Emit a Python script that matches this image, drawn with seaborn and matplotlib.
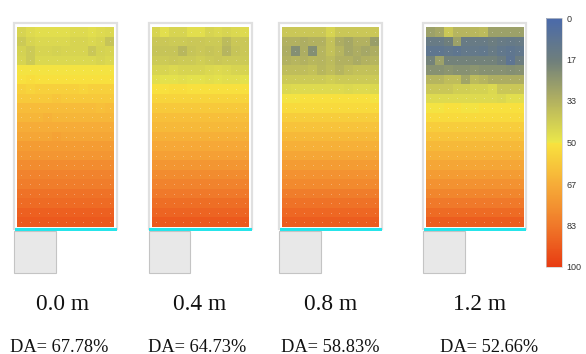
import numpy as np
import pandas as pd
import matplotlib
matplotlib.use("Agg")
import matplotlib.pyplot as plt
import seaborn as sns
from matplotlib.colors import LinearSegmentedColormap
from matplotlib.patches import Rectangle

# ---------------- data ----------------
heights = ["0.0 m", "0.4 m", "0.8 m", "1.2 m"]
da_labels = ["DA= 67.78%", "DA= 64.73%", "DA= 58.83%", "DA= 52.66%"]
cbar_ticks = [0, 16.67, 33.33, 50, 66.67, 83.33, 100]
cbar_ticklabels = ["0", "17", "33", "50", "67", "83", "100"]

grid_00 = [
    [44, 46, 47, 47, 47, 47, 46, 46, 47, 46, 45],
    [41, 44, 45, 45, 45, 45, 44, 44, 45, 44, 39],
    [43, 41, 44, 44, 43, 44, 44, 44, 40, 43, 44],
    [44, 41, 45, 45, 45, 45, 45, 45, 45, 44, 45],
    [50, 50, 50, 50, 50, 50, 50, 50, 50, 50, 50],
    [51, 52, 51, 51, 51, 51, 51, 51, 51, 51, 51],
    [56, 55, 56, 56, 56, 56, 56, 55, 56, 56, 56],
    [58, 58, 58, 58, 59, 58, 58, 58, 58, 58, 58],
    [62, 62, 62, 62, 62, 62, 62, 62, 62, 61, 62],
    [64, 64, 64, 65, 64, 64, 64, 64, 64, 64, 64],
    [67, 67, 67, 67, 67, 67, 67, 67, 67, 67, 67],
    [69, 69, 69, 69, 70, 69, 69, 69, 69, 69, 69],
    [72, 72, 72, 72, 72, 72, 72, 72, 72, 72, 72],
    [74, 74, 74, 74, 74, 74, 74, 74, 74, 74, 74],
    [77, 77, 77, 77, 77, 77, 77, 77, 77, 77, 77],
    [80, 80, 80, 80, 80, 80, 80, 80, 80, 80, 80],
    [82, 82, 82, 82, 82, 82, 82, 82, 82, 82, 82],
    [85, 85, 85, 85, 85, 85, 85, 85, 85, 85, 85],
    [87, 87, 87, 87, 87, 87, 87, 87, 87, 87, 87],
    [90, 90, 90, 90, 90, 90, 90, 90, 90, 90, 90],
    [92, 92, 92, 92, 92, 92, 92, 92, 92, 92, 92],
]

grid_04 = [
    [44, 47, 44, 44, 47, 47, 44, 45, 44, 45, 46],
    [40, 40, 41, 41, 40, 40, 41, 41, 36, 40, 40],
    [39, 39, 39, 35, 39, 40, 39, 40, 34, 39, 40],
    [41, 41, 40, 41, 41, 42, 41, 40, 41, 41, 41],
    [44, 44, 45, 44, 44, 44, 45, 46, 45, 44, 44],
    [47, 48, 48, 47, 48, 48, 47, 48, 47, 47, 48],
    [51, 51, 52, 52, 51, 51, 51, 51, 51, 51, 51],
    [55, 55, 55, 55, 55, 55, 55, 55, 55, 55, 55],
    [58, 58, 58, 58, 58, 58, 58, 58, 58, 58, 58],
    [61, 61, 61, 61, 61, 61, 61, 61, 61, 61, 61],
    [63, 63, 63, 63, 63, 63, 63, 63, 63, 63, 63],
    [66, 66, 66, 66, 66, 66, 66, 66, 66, 66, 66],
    [68, 68, 68, 68, 68, 68, 68, 68, 68, 68, 68],
    [71, 71, 71, 71, 71, 71, 71, 71, 71, 71, 71],
    [74, 74, 74, 74, 74, 74, 74, 74, 74, 74, 74],
    [77, 77, 77, 77, 77, 77, 77, 77, 77, 77, 77],
    [80, 80, 80, 80, 80, 80, 80, 80, 80, 80, 80],
    [83, 83, 83, 83, 83, 83, 83, 83, 83, 83, 83],
    [86, 86, 86, 86, 86, 86, 86, 86, 86, 86, 86],
    [89, 89, 89, 89, 89, 89, 89, 89, 89, 89, 89],
    [92, 92, 92, 92, 92, 92, 92, 92, 92, 92, 92],
]

grid_08 = [
    [40, 40, 40, 40, 40, 44, 40, 40, 40, 40, 40],
    [33, 33, 32, 33, 33, 38, 32, 30, 33, 33, 27],
    [32, 22, 32, 22, 34, 38, 34, 30, 32, 30, 32],
    [33, 34, 33, 35, 34, 36, 33, 33, 31, 33, 34],
    [37, 37, 37, 38, 35, 37, 34, 37, 38, 38, 38],
    [41, 41, 41, 41, 41, 42, 41, 41, 41, 41, 41],
    [45, 46, 46, 46, 46, 46, 46, 45, 46, 46, 45],
    [50, 50, 51, 51, 51, 51, 51, 51, 51, 51, 50],
    [53, 53, 53, 53, 53, 53, 53, 53, 53, 53, 53],
    [57, 57, 57, 57, 57, 57, 57, 57, 57, 57, 57],
    [60, 60, 60, 60, 60, 60, 60, 60, 60, 60, 60],
    [63, 63, 63, 63, 63, 63, 63, 63, 63, 63, 63],
    [66, 66, 66, 66, 66, 66, 66, 66, 66, 66, 66],
    [69, 69, 69, 69, 69, 69, 69, 69, 69, 69, 69],
    [72, 72, 72, 72, 72, 72, 72, 72, 72, 72, 72],
    [75, 75, 75, 75, 75, 75, 75, 75, 75, 75, 75],
    [78, 78, 78, 78, 78, 78, 78, 78, 78, 78, 78],
    [82, 82, 82, 82, 82, 82, 82, 82, 82, 82, 82],
    [85, 85, 85, 85, 85, 85, 85, 85, 85, 85, 85],
    [88, 88, 88, 88, 88, 88, 88, 88, 88, 88, 88],
    [91, 91, 91, 91, 91, 91, 91, 91, 91, 91, 91],
]

grid_12 = [
    [28, 30, 40, 34, 34, 35, 36, 28, 28, 28, 28],
    [14, 14, 17, 28, 14, 14, 14, 16, 14, 13, 14],
    [10, 10, 11, 10, 12, 12, 11, 14, 11, 10, 11],
    [18, 28, 18, 18, 18, 18, 18, 18, 16, 9, 16],
    [23, 23, 24, 23, 23, 24, 23, 23, 23, 22, 23],
    [34, 34, 37, 37, 29, 36, 34, 32, 32, 32, 32],
    [40, 40, 40, 42, 42, 43, 43, 45, 40, 40, 40],
    [46, 46, 46, 46, 46, 46, 46, 46, 45, 47, 47],
    [50, 50, 51, 51, 50, 50, 51, 51, 51, 51, 51],
    [53, 53, 53, 53, 53, 53, 53, 53, 53, 53, 53],
    [57, 57, 57, 57, 57, 57, 57, 57, 57, 57, 57],
    [60, 60, 60, 60, 60, 60, 60, 60, 60, 60, 60],
    [63, 63, 63, 63, 63, 63, 63, 63, 63, 63, 63],
    [66, 66, 66, 66, 66, 66, 66, 66, 66, 66, 66],
    [69, 69, 69, 69, 69, 69, 69, 69, 69, 69, 69],
    [72, 72, 72, 72, 72, 72, 72, 72, 72, 72, 72],
    [75, 75, 75, 75, 75, 75, 75, 75, 75, 75, 75],
    [79, 79, 79, 79, 79, 79, 79, 79, 79, 79, 79],
    [83, 83, 83, 83, 83, 83, 83, 83, 83, 83, 83],
    [87, 87, 87, 87, 87, 87, 87, 87, 87, 87, 87],
    [91, 91, 91, 91, 91, 91, 91, 91, 91, 91, 91],
]

grids = [grid_00, grid_04, grid_08, grid_12]

# ---------------- style ----------------
W, H = 586, 354
fig = plt.figure(figsize=(W / 100, H / 100), dpi=100)
fig.patch.set_facecolor("white")

cmap = LinearSegmentedColormap.from_list(
    "da",
    [(0.0, "#4a6aaa"), (0.17, "#6f7f7c"), (0.33, "#b2b160"),
     (0.495, "#eae64a"), (0.505, "#f8e23e"), (0.67, "#f6ac38"),
     (0.83, "#f07a2a"), (1.0, "#e83c12")],
)


def fx(x):
    return x / W


def fy(y):
    return 1 - y / H


def px_axes(x0, y0, x1, y1, z=1):
    a = fig.add_axes([fx(x0), fy(y1), fx(x1) - fx(x0), (y1 - y0) / H])
    a.set_zorder(z)
    return a


# heatmap extents in pixels (x0, x1)
heat_x = [(17, 114), (151.5, 249), (282, 379), (426, 523.5)]
heat_y = (27, 227)
label_x = [63, 200, 331, 480]
da_x = [59, 197, 330, 489]

for k, grid in enumerate(grids):
    x0, x1 = heat_x[k]
    # outer frame
    fig.patches.append(Rectangle((fx(x0 - 2.8), fy(heat_y[1] + 2)),
                                 (x1 - x0 + 5.6) / W, (heat_y[1] - heat_y[0] + 6) / H,
                                 transform=fig.transFigure, facecolor="none",
                                 edgecolor="#e0e0e0", linewidth=1.6, zorder=-1))
    ax = px_axes(x0, heat_y[0], x1, heat_y[1], z=2)
    df = pd.DataFrame(grid)
    sns.heatmap(df, ax=ax, cmap=cmap, vmin=0, vmax=100, cbar=False,
                xticklabels=False, yticklabels=False, linewidths=0)
    nrow, ncol = df.shape
    jj, ii = np.meshgrid(np.arange(ncol) + 0.5, np.arange(nrow) + 0.5)
    ax.scatter(jj.ravel(), ii.ravel(), s=0.6, c="white", alpha=0.35,
               linewidths=0)
    ax.set_xlim(0, ncol)
    ax.set_ylim(nrow, 0)
    ax.axis("off")
    # cyan line (window sill)
    fig.patches.append(Rectangle((fx(x0 - 2.5), fy(230.8)),
                                 (x1 - x0 + 5) / W, 3 / H,
                                 transform=fig.transFigure, facecolor="#26e4ea",
                                 edgecolor="none", zorder=3))
    # grey box below
    fig.patches.append(Rectangle((fx(x0 - 2.6), fy(272.7)),
                                 41.5 / W, 42 / H,
                                 transform=fig.transFigure, facecolor="#e8e8e8",
                                 edgecolor="#c4c4c4", linewidth=0.8, zorder=2))
    fig.text(fx(label_x[k]), fy(304), heights[k], ha="center", va="center",
             family="Liberation Serif", fontsize=16.8, color="#111111")
    fig.text(fx(da_x[k]), fy(347), da_labels[k], ha="center", va="center",
             family="Liberation Serif", fontsize=13.2, color="#111111")

# colorbar
cax = px_axes(546, 18, 562, 267)
sm = plt.cm.ScalarMappable(cmap=cmap, norm=plt.Normalize(0, 100))
cb = fig.colorbar(sm, cax=cax, ticks=cbar_ticks)
cb.ax.set_yticklabels(cbar_ticklabels, family="Liberation Sans", fontsize=6.5,
                      color="#333333")
cb.ax.tick_params(length=0, pad=3)
cb.ax.invert_yaxis()
cb.outline.set_edgecolor("#cccccc")
cb.outline.set_linewidth(0.5)

fig.savefig("out.png", dpi=100, facecolor="white")
